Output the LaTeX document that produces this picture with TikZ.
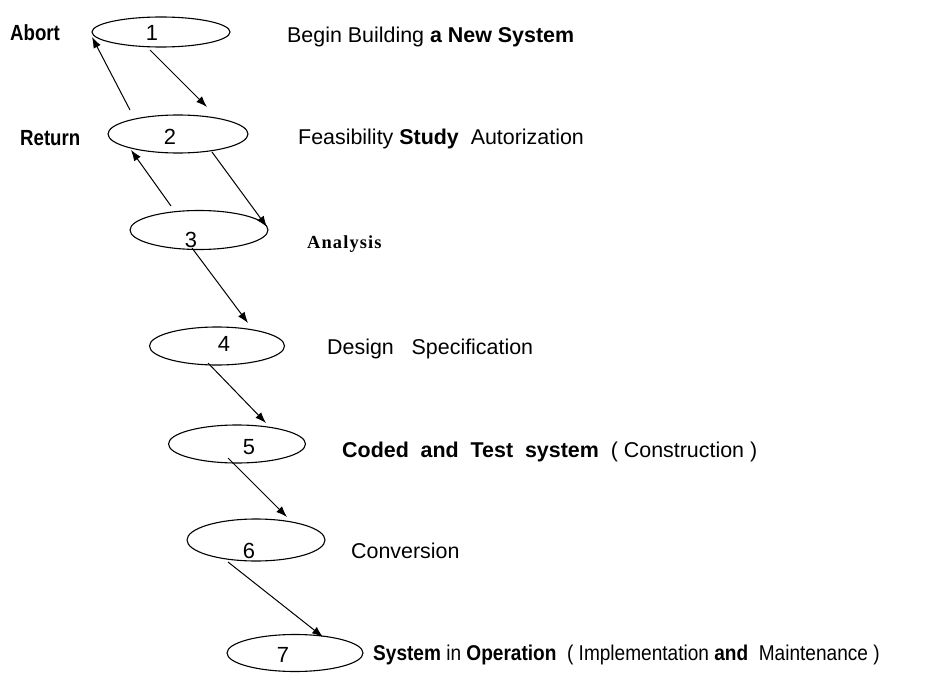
\documentclass[tikz,border=0pt]{standalone}
\usepackage{fontspec}
\setmainfont{Liberation Sans}
\newfontfamily\anfont[LetterSpace=6]{Liberation Serif}
\newfontfamily\narrowfont[FakeStretch=0.85]{Liberation Sans}
\newfontfamily\condfont[FakeStretch=0.89]{Liberation Sans}
\usetikzlibrary{shapes.geometric,arrows.meta,calc}
\begin{document}
\begin{tikzpicture}[x=1bp,y=-1bp,
  ell/.style={draw, ellipse, inner sep=0pt, line width=1.1bp},
  num/.style={inner sep=0pt, font=\fontsize{22}{22}\selectfont},
  lab/.style={anchor=base west, inner sep=0pt, font=\fontsize{21.5}{24}\selectfont},
  side/.style={anchor=base west, inner sep=0pt, font=\fontsize{22}{24}\narrowfont\bfseries},
  arr/.style={-{Latex[length=11bp,width=8bp]}, line width=1bp}]
\useasboundingbox (0,0) rectangle (944,673);
% ellipses
\node[ell, minimum width=138bp, minimum height=30bp] (e1) at (161,32) {};
\node[ell, minimum width=140bp, minimum height=38bp] (e2) at (178,134) {};
\node[ell, minimum width=138bp, minimum height=39bp] (e3) at (199,230) {};
\node[ell, minimum width=135bp, minimum height=38bp] (e4) at (217,346) {};
\node[ell, minimum width=137bp, minimum height=38bp] (e5) at (237,444) {};
\node[ell, minimum width=138bp, minimum height=42bp] (e6) at (256,540) {};
\node[ell, minimum width=136bp, minimum height=37bp] (e7) at (295,653) {};
% numbers
\node[num] (n1) at (152,33) {1};
\node[num] (n2) at (170,137) {2};
\node[num] (n3) at (191,240) {3};
\node[num] (n4) at (224,344) {4};
\node[num] (n5) at (249,447) {5};
\node[num] (n6) at (249,551) {6};
\node[num] (n7) at (283,655) {7};
% side labels
\node[side] (abort) at (10,41) {Abort};
\node[side] (ret) at (20,146) {Return};
% descriptions
\node[lab] (t1) at (287,43) {Begin Building \textbf{a New System}};
\node[lab] (t2) at (298,145) {Feasibility \textbf{Study}\ \ Autorization};
\node[anchor=base west, inner sep=0pt, font=\fontsize{18.5}{20}\anfont\bfseries] (t3) at (307,248) {Analysis};
\node[lab] (t4) at (327,354) {Design\ \ \ Specification};
\node[lab] (t5) at (342,457) {\textbf{Coded\ \ and\ \ Test\ \ system}\ \ (\ Construction\ )};
\node[lab] (t6) at (351,558) {Conversion};
\node[anchor=base west, inner sep=0pt, font=\fontsize{21.5}{24}\condfont] (t7) at (373,660) {\textbf{System} in \textbf{Operation}\ \ ( Implementation \textbf{and}\ \ Maintenance )};
% connectors
\draw[arr] ($(e1.center)+(-11,18)$) -- ($(e2.center)+(29,-27)$);
\draw[arr] ($(e2.center)+(-48,-24)$) -- ($(e1.center)+(-69,5)$);
\draw[arr] ($(e2.center)+(34,18)$) -- ($(e3.center)+(68,-3)$);
\draw[arr] ($(e3.center)+(-28,-24)$) -- ($(e2.center)+(-47,16)$);
\draw[arr] ($(e3.center)+(-7,18)$) -- ($(e4.center)+(31,-23)$);
\draw[arr] ($(e4.center)+(-9,17)$) -- ($(e5.center)+(29,-21)$);
\draw[arr] ($(e5.center)+(-9,14)$) -- ($(e6.center)+(31,-23)$);
\draw[arr] ($(e6.center)+(-28,22)$) -- ($(e7.center)+(28,-16)$);
\end{tikzpicture}
\end{document}
